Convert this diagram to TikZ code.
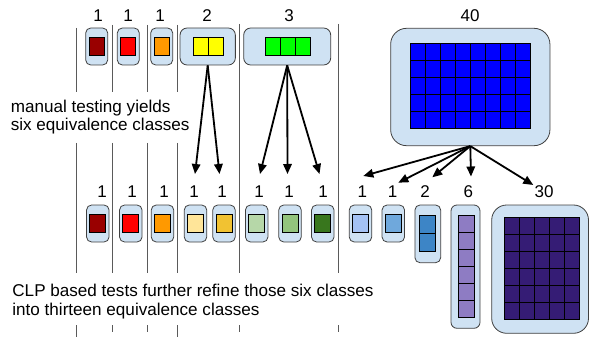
\documentclass[tikz,border=0pt]{standalone}
\usepackage{fontspec}
\setmainfont{Liberation Sans}
\usetikzlibrary{arrows.meta}

\definecolor{holderblue}{HTML}{CFE2F3}
\definecolor{edgegray}{HTML}{5A5A5A}
\definecolor{cDarkRed}{HTML}{990000}
\definecolor{cRed}{HTML}{FF0000}
\definecolor{cOrange}{HTML}{FF9900}
\definecolor{cYellow}{HTML}{FFFF00}
\definecolor{cGreen}{HTML}{00FF00}
\definecolor{cBlue}{HTML}{0000FF}
\definecolor{cLightYellow}{HTML}{FFE599}
\definecolor{cGold}{HTML}{F1C232}
\definecolor{cLightGreen}{HTML}{B6D7A8}
\definecolor{cMidGreen}{HTML}{93C47D}
\definecolor{cDarkGreen}{HTML}{38761D}
\definecolor{cLightBlue}{HTML}{A4C2F4}
\definecolor{cMidBlue}{HTML}{6FA8DC}
\definecolor{cDeepBlue}{HTML}{3D85C6}
\definecolor{cLavender}{HTML}{8E7CC3}
\definecolor{cIndigo}{HTML}{351C75}

% a grid of cells: x0, y0, cell width, cell height, columns, rows, colour
\newcommand\drawcells[7]{%
  \fill[#7] (#1,#2) rectangle ++({#5*#3},{#6*#4});
  \foreach \ci in {0,...,#5}{%
    \draw[cell] ({#1+\ci*#3},#2) -- ++(0,{#6*#4});
  }%
  \foreach \cj in {0,...,#6}{%
    \draw[cell] (#1,{#2+\cj*#4}) -- ++({#5*#3},0);
  }%
}

\tikzset{
  holder/.style={draw=black!75, fill=holderblue, line width=0.8pt, inner sep=0pt},
  cell/.style={draw=black, line width=1pt, line cap=rect},
  numlab/.style={font=\fontsize{17}{20}\selectfont, inner sep=0pt, anchor=base},
  note/.style={font=\fontsize{17.1}{20}\selectfont, inner sep=0pt, anchor=base west},
  divider/.style={draw=edgegray, line width=1pt},
  arr/.style={-{Triangle[length=10pt,width=8.5pt]}, line width=1.8pt},
}

\begin{document}
\begin{tikzpicture}[x=1pt,y=-1pt]
\useasboundingbox (0,0) rectangle (590,337);

% dividers between the classes
\foreach \dx/\top in {76.5/28,112.5/25,147.5/25,177.5/25}{
  \draw[divider] (\dx,\top) -- (\dx,92);
  \draw[divider] (\dx,143) -- (\dx,273);
}
\foreach \dx in {239.5,338.5}{
  \draw[divider] (\dx,24) -- (\dx,273);
}
\foreach \dx/\bot in {76.5/337,112.5/332,147.5/332,177.5/337,239.5/332,338.5/332}{
  \draw[divider] (\dx,325) -- (\dx,\bot);
}

% ---------- upper row: manual testing ----------
\node[holder, rounded corners=5pt, minimum width=22pt, minimum height=37pt] (t1) at (96.7,46.5) {};
\drawcells{89.5}{37.5}{15}{18}{1}{1}{cDarkRed}
\node[holder, rounded corners=5pt, minimum width=22pt, minimum height=37pt] (t2) at (128.3,46.5) {};
\drawcells{120.5}{37.5}{15}{18}{1}{1}{cRed}
\node[holder, rounded corners=5pt, minimum width=22pt, minimum height=37pt] (t3) at (161.7,46.5) {};
\drawcells{154.5}{37.5}{15}{18}{1}{1}{cOrange}
\node[holder, rounded corners=7pt, minimum width=55.3pt, minimum height=37pt] (t4) at (207.7,46.5) {};
\drawcells{193.5}{37.5}{15}{18}{2}{1}{cYellow}
\node[holder, rounded corners=7pt, minimum width=87pt, minimum height=37pt] (t5) at (287.2,46.5) {};
\drawcells{265.5}{37.5}{15}{18}{3}{1}{cGreen}
\node[holder, rounded corners=16pt, minimum width=159.3pt, minimum height=117.4pt] (t6) at (470.3,87) {};
\drawcells{410.5}{43.5}{15}{17}{8}{5}{cBlue}

\node[numlab] (n1) at (98,22) {1};
\node[numlab] (n2) at (128,22) {1};
\node[numlab] (n3) at (160,22) {1};
\node[numlab] (n4) at (207,22) {2};
\node[numlab] (n5) at (289,22) {3};
\node[numlab] (n6) at (470,22) {40};

\node[note] (m1) at (10.6,112.5) {manual testing yields};
\node[note] (m2) at (10.6,131) {six equivalence classes};

% ---------- lower row: CLP based tests ----------
\foreach \nm/\cx/\gx/\col in {b1/97.8/89.5/cDarkRed, b2/130.8/122.5/cRed,
    b3/162.5/154.5/cOrange, b4/195.5/187.5/cLightYellow, b5/224/216.5/cGold,
    b6/256.7/248.5/cLightGreen, b7/290/282.5/cMidGreen, b8/322.8/314.5/cDarkGreen,
    b9/360.5/352.5/cLightBlue, b10/393.3/385.5/cMidBlue}{
  \node[holder, rounded corners=5pt, minimum width=22.5pt, minimum height=37pt] (\nm) at (\cx,223.5) {};
  \drawcells{\gx}{214.5}{16}{18}{1}{1}{\col}
}
\node[holder, rounded corners=5pt, minimum width=25.7pt, minimum height=57.7pt] (b11) at (427.8,233.85) {};
\drawcells{419.5}{215.5}{16}{18}{1}{2}{cDeepBlue}
\node[holder, rounded corners=6pt, minimum width=29pt, minimum height=123.3pt] (b12) at (465.5,266.65) {};
\drawcells{458.5}{215.5}{16}{17}{1}{6}{cLavender}
\node[holder, rounded corners=15pt, minimum width=96.8pt, minimum height=128.3pt] (b13) at (540.1,269.15) {};
\drawcells{504.5}{217.5}{15}{17}{5}{6}{cIndigo}

\foreach \nm/\lx/\txt in {k1/102/1, k2/132/1, k3/164/1, k4/194/1, k5/222/1,
    k6/259/1, k7/289/1, k8/323/1, k9/362.3/1, k10/392.7/1, k11/425/2,
    k12/468.3/6, k13/544/30}{
  \node[numlab] (\nm) at (\lx,197.5) {\txt};
}

\node[note] (c1) at (12.2,296) {CLP based tests further refine those six classes};
\node[note] (c2) at (12.2,315) {into thirteen equivalence classes};

% ---------- refinement arrows ----------
\coordinate (p4) at (195,174);
\coordinate (p5) at (219.5,174);
\coordinate (p6) at (260,174);
\coordinate (p7) at (287.5,174);
\coordinate (p8) at (319.5,174);
\coordinate (p9) at (363.3,176);
\coordinate (p10) at (398.3,182.7);
\coordinate (p11) at (432.3,177.3);
\coordinate (p12) at (471,176.5);
\coordinate (p13) at (533.3,185);

\foreach \tg in {p4,p5}{\draw[arr] (t4.south) -- (\tg);}
\foreach \tg in {p6,p7,p8}{\draw[arr] (t5.south) -- (\tg);}
\foreach \tg in {p9,p10,p11,p12,p13}{\draw[arr] (t6.south) -- (\tg);}

\end{tikzpicture}
\end{document}
